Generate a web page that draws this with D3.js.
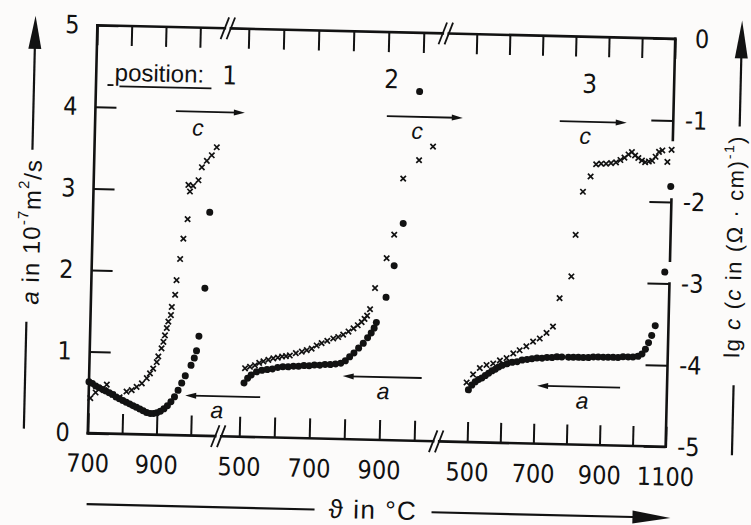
<!DOCTYPE html>
<html>
<head>
<meta charset="utf-8">
<script src="https://cdn.jsdelivr.net/npm/d3@7"></script>
<style>
  html, body { margin: 0; padding: 0; background: #fcfbfa; }
  svg { display: block; }
  text { fill: #111; }
  .num { font-family: "Liberation Sans Narrow", "DejaVu Sans Condensed", sans-serif; font-size: 25px; }
  .word { font-family: "Liberation Sans", Arial, sans-serif; }
</style>
</head>
<body>
<svg id="chart" width="751" height="525"></svg>
<script>
// ---- Temperature axis: three heating runs drawn side by side on broken scales ----
const positionLabels = ["1", "2", "3"];
const segTicks = [[700, 800, 900, 1000], [500, 600, 700, 800, 900, 1000], [500, 600, 700, 800, 900, 1000, 1100]];
const segTickLabels = [[700, 900], [500, 700, 900], [500, 700, 900, 1100]];
const aTicks = [0, 1, 2, 3, 4, 5];
const lgTicks = [-5, -4, -3, -2, -1, 0];

// ---- Position 1 ----
const pos1CondT  = [705, 720, 745, 752, 770, 790, 810, 825, 839, 854, 868, 877, 886, 896, 900, 909, 914, 918, 923, 927, 934, 936, 945, 948, 957, 965, 976, 976, 981, 990, 1005, 1014, 1028, 1042, 1056];
const pos1CondLg = [-4.57, -4.50, -4.47, -4.40, -4.52, -4.55, -4.48, -4.46, -4.42, -4.375, -4.31, -4.25, -4.19, -4.11, -4.04, -3.94, -3.86, -3.78, -3.69, -3.61, -3.53, -3.43, -3.28, -3.10, -2.84, -2.59, -2.35, -1.93, -2.01, -1.94, -1.87, -1.71, -1.63, -1.56, -1.46];
const pos1DiffT  = [700, 710, 720, 730, 740, 750, 760, 770, 780, 790, 800, 810, 820, 830, 840, 850, 860, 870, 880, 890, 900, 910, 920, 930, 940, 950, 960, 970, 980, 996, 1005, 1011, 1017, 1031, 1040];
const pos1DiffA  = [0.63, 0.61, 0.58, 0.56, 0.54, 0.52, 0.50, 0.48, 0.45, 0.43, 0.41, 0.39, 0.37, 0.35, 0.33, 0.31, 0.29, 0.27, 0.26, 0.26, 0.27, 0.29, 0.32, 0.36, 0.41, 0.47, 0.55, 0.64, 0.73, 0.86, 0.95, 1.04, 1.22, 1.81, 2.74];

// ---- Position 2 ----
const pos2CondT  = [512, 526, 540, 552, 564, 578, 592, 605, 617, 628, 639, 656, 673, 687, 701, 715, 729, 745, 762, 776, 790, 805, 819, 831, 842, 850, 857, 865, 878, 909, 929, 951, 995, 1034];
const pos2CondLg = [-4.16, -4.14, -4.12, -4.09, -4.07, -4.05, -4.03, -4.02, -4.005, -4.00, -3.99, -3.96, -3.94, -3.92, -3.90, -3.86, -3.83, -3.80, -3.77, -3.75, -3.72, -3.68, -3.64, -3.60, -3.56, -3.52, -3.48, -3.40, -3.14, -2.77, -2.48, -1.79, -1.56, -1.39];
const pos2DiffT  = [510, 520, 530, 545, 560, 575, 590, 605, 620, 635, 650, 665, 680, 695, 710, 725, 740, 755, 770, 785, 798, 810, 822, 835, 848, 860, 870, 878, 884, 910, 931, 954, 992];
const pos2DiffA  = [0.66, 0.72, 0.76, 0.80, 0.82, 0.83, 0.84, 0.86, 0.87, 0.87, 0.88, 0.88, 0.89, 0.89, 0.90, 0.90, 0.91, 0.91, 0.92, 0.93, 0.96, 1.01, 1.06, 1.12, 1.18, 1.25, 1.31, 1.37, 1.44, 1.75, 2.14, 2.66, 4.28];

// ---- Position 3 ----
const pos3CondT  = [494, 513, 533, 553, 573, 593, 613, 633, 652, 672, 692, 712, 732, 751, 769, 803, 813, 832, 854, 870, 885, 900, 915, 930, 943, 955, 967, 977, 987, 997, 1008, 1018, 1029, 1039, 1049, 1059, 1069, 1085, 1097];
const pos3CondLg = [-4.27, -4.17, -4.09, -4.05, -4.03, -3.99, -3.96, -3.90, -3.86, -3.81, -3.75, -3.71, -3.64, -3.56, -3.21, -2.94, -2.43, -1.90, -1.71, -1.56, -1.55, -1.55, -1.54, -1.53, -1.50, -1.47, -1.43, -1.40, -1.44, -1.47, -1.50, -1.52, -1.51, -1.50, -1.45, -1.39, -1.37, -1.51, -1.36];
const pos3DiffT  = [500, 510, 520, 530, 540, 550, 560, 570, 580, 590, 600, 615, 630, 645, 660, 675, 690, 705, 720, 735, 750, 765, 780, 800, 815, 830, 845, 860, 875, 890, 905, 920, 935, 950, 965, 980, 995, 1010, 1022, 1032, 1041, 1050, 1060, 1085, 1097];
const pos3DiffA  = [0.64, 0.70, 0.74, 0.77, 0.79, 0.82, 0.85, 0.88, 0.90, 0.93, 0.95, 0.97, 0.99, 1.00, 1.02, 1.03, 1.04, 1.05, 1.05, 1.06, 1.06, 1.07, 1.07, 1.07, 1.07, 1.07, 1.07, 1.07, 1.08, 1.08, 1.08, 1.08, 1.08, 1.08, 1.09, 1.09, 1.09, 1.10, 1.13, 1.19, 1.27, 1.36, 1.48, 2.14, 3.19];

// ---- Layout ----
const frame = { left: 92.5, right: 670.5, top: 32, bottom: 440 };
const tilt = 1.35, pivot = [381.5, 236];
const ink = "#121212";
const segLayout = [
  { domain: [700, 1000], range: [92.5, 195.5] },
  { domain: [500, 1000], range: [244, 419] },
  { domain: [500, 1100], range: [472, 670.5] }
];
const breaks = [223, 441];
const rightFrameGaps = [[-1.97, -1.24], [-3.0, -2.72]];

const svg = d3.select("#chart");
svg.append("rect").attr("width", 751).attr("height", 525).attr("fill", "#fcfbfa");
const root = svg.append("g").attr("transform", `rotate(${tilt} ${pivot[0]} ${pivot[1]})`);

const yA  = d3.scaleLinear().domain([0, 5]).range([frame.bottom, frame.top]);
const yLg = d3.scaleLinear().domain([-5, 0]).range([frame.bottom, frame.top]);
const segScales = segLayout.map(s => d3.scaleLinear().domain(s.domain).range(s.range));

// ---- Frame with axis breaks ----
const frameG = root.append("g").attr("stroke", ink).attr("stroke-width", 2.6).attr("fill", "none").attr("stroke-linecap", "square");
const line = (g, x1, y1, x2, y2) => g.append("line").attr("x1", x1).attr("y1", y1).attr("x2", x2).attr("y2", y2);
line(frameG, frame.left, frame.top, frame.left, frame.bottom);
[frame.top, frame.bottom].forEach(y => {
  const stops = [frame.left, ...breaks.flatMap(b => [b - 3, b + 3]), frame.right];
  for (let i = 0; i < stops.length; i += 2) line(frameG, stops[i], y, stops[i + 1], y);
  breaks.forEach(b => {
    [-3, 3].forEach(off => {
      line(frameG, b + off - 4, y + 11, b + off + 4, y - 11).attr("stroke-width", 1.8).attr("stroke-linecap", "butt");
    });
  });
});
// right edge, interrupted where points sit on it
{
  const cuts = rightFrameGaps.map(([lo, hi]) => [yLg(hi), yLg(lo)]).sort((a, b) => a[0] - b[0]);
  let y0 = frame.top;
  cuts.forEach(([a, b]) => { line(frameG, frame.right, y0, frame.right, a); y0 = b; });
  line(frameG, frame.right, y0, frame.right, frame.bottom);
}

// ---- Temperature ticks (top and bottom) ----
const tickStyle = g => {
  g.select(".domain").remove();
  g.attr("font-family", null).attr("font-size", null);
  g.selectAll(".tick line").attr("stroke", ink).attr("stroke-width", 2);
  g.selectAll(".tick text").attr("class", "num").attr("fill", ink);
};
segScales.forEach((sc, i) => {
  root.append("g").attr("transform", `translate(0,${frame.bottom})`)
    .call(d3.axisBottom(sc).tickValues(segTicks[i]).tickSizeInner(-20).tickSizeOuter(0).tickPadding(21)
      .tickFormat(d => segTickLabels[i].includes(d) ? String(d) : ""))
    .call(tickStyle);
  root.append("g").attr("transform", `translate(0,${frame.top})`)
    .call(d3.axisTop(sc).tickValues(segTicks[i]).tickSizeInner(-20).tickSizeOuter(0).tickFormat(() => ""))
    .call(tickStyle);
});

// ---- Left axis: thermal diffusivity ----
root.append("g").attr("transform", `translate(${frame.left},0)`)
  .call(d3.axisLeft(yA).tickValues(aTicks).tickSizeInner(-21).tickSizeOuter(0).tickPadding(18).tickFormat(d3.format("d")))
  .call(tickStyle);

// ---- Right axis: lg of conductivity ----
root.append("g").attr("transform", `translate(${frame.right},0)`)
  .call(d3.axisRight(yLg).tickValues(lgTicks).tickSizeInner(-22).tickSizeOuter(0)
    .tickFormat(d => d === 0 ? "0" : "-" + Math.abs(d)))
  .call(tickStyle)
  .call(g => g.selectAll(".tick text").attr("text-anchor", "end").attr("x", 34));

// ---- Measured points ----
const series = [
  { seg: 0, condT: pos1CondT, condLg: pos1CondLg, diffT: pos1DiffT, diffA: pos1DiffA },
  { seg: 1, condT: pos2CondT, condLg: pos2CondLg, diffT: pos2DiffT, diffA: pos2DiffA },
  { seg: 2, condT: pos3CondT, condLg: pos3CondLg, diffT: pos3DiffT, diffA: pos3DiffA }
];
const cs = 2.7;
const crossPath = `M${-cs},${-cs}L${cs},${cs}M${-cs},${cs}L${cs},${-cs}`;
series.forEach(s => {
  const sx = segScales[s.seg];
  root.append("g").selectAll("path").data(d3.zip(s.condT, s.condLg)).join("path")
    .attr("transform", d => `translate(${sx(d[0])},${yLg(d[1])})`)
    .attr("d", crossPath).attr("stroke", ink).attr("stroke-width", 1.7).attr("fill", "none");
});
series.forEach(s => {
  const sx = segScales[s.seg];
  root.append("g").selectAll("circle").data(d3.zip(s.diffT, s.diffA)).join("circle")
    .attr("cx", d => sx(d[0])).attr("cy", d => yA(d[1])).attr("r", 3.5).attr("fill", ink);
});

// ---- Annotations: position numbers and run direction arrows ----
const ann = root.append("g");
function hArrow(x1, x2, y, head = 11, half = 3) {
  // x2 is the tip
  const dir = Math.sign(x2 - x1);
  ann.append("line").attr("x1", x1).attr("y1", y).attr("x2", x2 - dir * head * 0.6).attr("y2", y)
    .attr("stroke", ink).attr("stroke-width", 1.8);
  ann.append("path").attr("d", `M${x2},${y}L${x2 - dir * head},${y - half}L${x2 - dir * head},${y + half}Z`).attr("fill", ink);
}
const posLabelX = [226, 388, 586];
posLabelX.forEach((x, i) => ann.append("text").attr("class", "num").attr("x", x).attr("y", 88)
  .attr("text-anchor", "middle").style("font-size", "26px").text(positionLabels[i]));
ann.append("text").attr("class", "word").attr("x", 111).attr("y", 87).style("font-size", "24px").text("position:");
ann.append("line").attr("x1", 104).attr("x2", 110).attr("y1", 91.5).attr("y2", 91.5).attr("stroke", ink).attr("stroke-width", 1.8);
ann.append("line").attr("x1", 116).attr("x2", 208).attr("y1", 92.5).attr("y2", 92.5).attr("stroke", ink).attr("stroke-width", 1.8);

const cArrows = [[173, 242, 116], [384, 460, 116], [557, 624, 117]];
const cLabels = [[195.5, 140], [414.6, 138], [582.7, 139]];
const aArrows = [[264, 189, 400], [425, 346, 377], [623.6, 540.6, 382]];
const aLabels = [[221, 422], [386.7, 399], [586, 404]];
cArrows.forEach(([x1, x2, y]) => hArrow(x1, x2, y));
aArrows.forEach(([x1, x2, y]) => hArrow(x1, x2, y));
cLabels.forEach(([x, y]) => ann.append("text").attr("class", "word").attr("x", x).attr("y", y)
  .attr("text-anchor", "middle").style("font-size", "23px").style("font-style", "italic").text("c"));
aLabels.forEach(([x, y]) => ann.append("text").attr("class", "word").attr("x", x).attr("y", y)
  .attr("text-anchor", "middle").style("font-size", "23px").style("font-style", "italic").text("a"));

// ---- Axis titles with arrows ----
const titles = root.append("g");
function vArrowUp(x, yTip, yTail, head, half) {
  titles.append("line").attr("x1", x).attr("x2", x).attr("y1", yTail).attr("y2", yTip + head * 0.6)
    .attr("stroke", ink).attr("stroke-width", 2.2);
  titles.append("path").attr("d", `M${x},${yTip}L${x - half},${yTip + head}L${x + half},${yTip + head}Z`).attr("fill", ink);
}
// left
vArrowUp(30.5, 24, 158, 33, 6.5);
titles.append("line").attr("x1", 28.5).attr("x2", 28.5).attr("y1", 330).attr("y2", 437).attr("stroke", ink).attr("stroke-width", 2.2);
{
  const t = titles.append("text").attr("class", "word").attr("transform", "translate(31,240) rotate(-90)")
    .attr("text-anchor", "middle").attr("dominant-baseline", "central")
    .style("font-size", "24px").style("letter-spacing", "1px");
  t.append("tspan").style("font-style", "italic").text("a");
  t.append("tspan").text(" in 10");
  t.append("tspan").attr("dy", -9).style("font-size", "15px").text("-7");
  t.append("tspan").attr("dy", 9).text("m");
  t.append("tspan").attr("dy", -9).style("font-size", "15px").text("2");
  t.append("tspan").attr("dy", 9).text("/s");
}
// right
vArrowUp(737, 12, 118, 38, 6.5);
titles.append("line").attr("x1", 737).attr("x2", 737).attr("y1", 377).attr("y2", 447).attr("stroke", ink).attr("stroke-width", 2.2);
{
  const t = titles.append("text").attr("class", "word").attr("transform", "translate(734,238) rotate(-90)")
    .attr("text-anchor", "middle").attr("dominant-baseline", "central")
    .style("font-size", "22px").style("letter-spacing", "1.6px");
  t.append("tspan").text("lg ");
  t.append("tspan").style("font-style", "italic").text("c");
  t.append("tspan").text(" (");
  t.append("tspan").style("font-style", "italic").text("c");
  t.append("tspan").text(" in (Ω · cm)");
  t.append("tspan").attr("dy", -7).style("font-size", "14px").text("-1");
  t.append("tspan").attr("dy", 7).text(")");
}
// bottom
titles.append("line").attr("x1", 93).attr("x2", 321).attr("y1", 511).attr("y2", 511).attr("stroke", ink).attr("stroke-width", 2.2);
titles.append("line").attr("x1", 438).attr("x2", 650).attr("y1", 511).attr("y2", 511).attr("stroke", ink).attr("stroke-width", 2.2);
titles.append("path").attr("d", "M677,511L639,504.5L639,517.5Z").attr("fill", ink);
titles.append("text").attr("class", "word").attr("x", 379.5).attr("y", 519).attr("text-anchor", "middle")
  .style("font-size", "26px").style("letter-spacing", "1.5px").text("ϑ in °C");
</script>
</body>
</html>
